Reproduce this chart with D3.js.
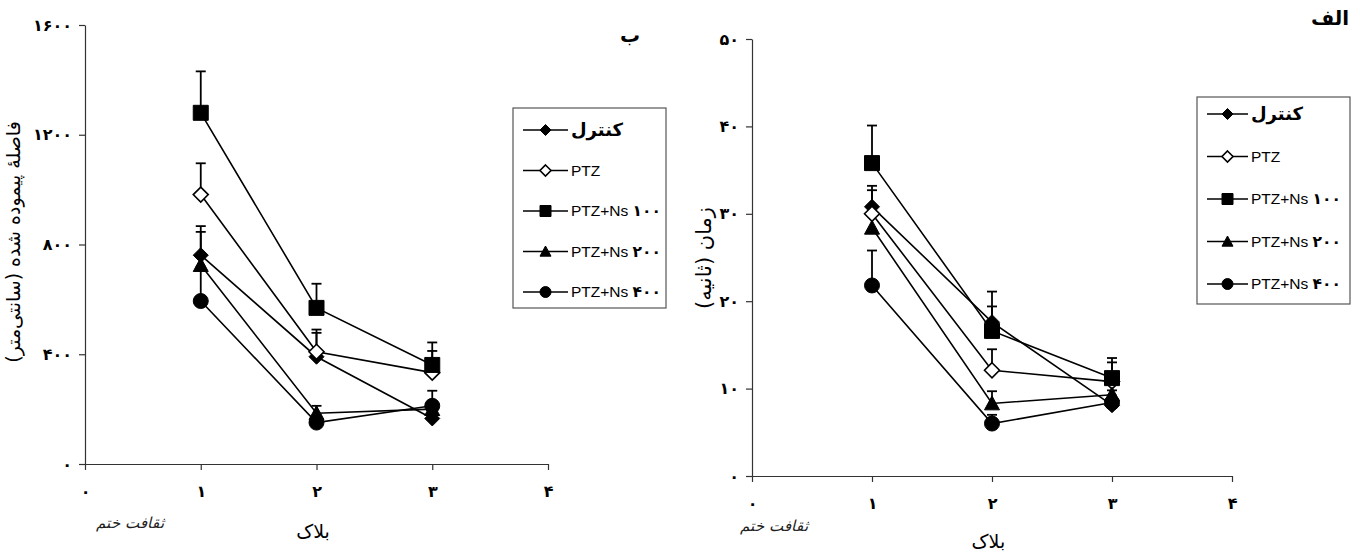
<!DOCTYPE html>
<html>
<head>
<meta charset="utf-8">
<script src="https://cdn.jsdelivr.net/npm/d3@7"></script>
<style>
  html, body { margin: 0; padding: 0; background: #fff; }
  svg { display: block; }
</style>
</head>
<body>
<svg id="chart" width="1360" height="552"></svg>
<script>
// ---------------- DATA ----------------
const blocks = [1, 2, 3];
const seriesNames = ["کنترل", "PTZ", "PTZ+Ns ۱۰۰", "PTZ+Ns ۲۰۰", "PTZ+Ns ۴۰۰"];
const seriesShapes = ["diamond", "diamondOpen", "square", "triangle", "circle"];

// Panel "ب" : distance travelled (cm)
const distControl = [761, 391, 166];
const distPTZ     = [982, 409, 333];
const distNs100   = [1280, 569, 361];
const distNs200   = [725, 185, 200];
const distNs400   = [594, 151, 212];
const distControlErr = [106, 87, 20];
const distPTZErr     = [114, 81, 79];
const distNs100Err   = [151, 88, 82];
const distNs200Err   = [121, 27, 15];
const distNs400Err   = [125, 25, 55];
const distTicks = [0, 400, 800, 1200, 1600];

// Panel "الف" : time (s)
const timeControl = [30.8, 17.6, 8.1];
const timePTZ     = [30.0, 12.1, 10.8];
const timeNs100   = [35.8, 16.6, 11.2];
const timeNs200   = [28.4, 8.3, 9.3];
const timeNs400   = [21.8, 6.0, 8.4];
const timeControlErr = [2.4, 3.5, 0.5];
const timePTZErr     = [2.7, 2.4, 2.2];
const timeNs100Err   = [4.3, 2.8, 2.3];
const timeNs200Err   = [1.5, 1.4, 0.5];
const timeNs400Err   = [4.0, 1.0, 0.8];
const timeTicks = [0, 10, 20, 30, 40, 50];

const xTicks = [0, 1, 2, 3, 4];

// ---------------- HELPERS ----------------
const faDigits = "۰۱۲۳۴۵۶۷۸۹";
const toFa = v => String(v).replace(/\d/g, d => faDigits[+d]);
const FA_FONT = "'DejaVu Sans', 'Noto Sans', sans-serif";
const LAT_FONT = "'Liberation Sans', Arial, sans-serif";

function markerPath(shape, s) {
  if (shape === "square") return `M${-s},${-s}H${s}V${s}H${-s}Z`;
  if (shape === "diamond" || shape === "diamondOpen") return `M0,${-s}L${s},0L0,${s}L${-s},0Z`;
  if (shape === "triangle") return `M0,${-s}L${s},${s*0.85}L${-s},${s*0.85}Z`;
  if (shape === "circle") return d3.symbol(d3.symbolCircle, Math.PI * s * s)();
  return "";
}
function drawMarker(g, shape, x, y, s) {
  g.append("path")
    .attr("d", markerPath(shape, s))
    .attr("transform", `translate(${x},${y})`)
    .attr("fill", shape === "diamondOpen" ? "#fff" : "#000")
    .attr("stroke", "#000")
    .attr("stroke-width", shape === "diamondOpen" ? 1.6 : 1);
}

const svg = d3.select("#chart");

function drawPanel(cfg) {
  const x = d3.scaleLinear().domain([0, 4]).range([cfg.x0, cfg.x1]);
  const y = d3.scaleLinear().domain([0, cfg.yMax]).range([cfg.yBottom, cfg.yTop]);
  const g = svg.append("g");

  const yAxis = d3.axisLeft(y).tickValues(cfg.yTicks).tickSize(6).tickSizeOuter(0)
    .tickPadding(7).tickFormat(toFa);
  const xAxis = d3.axisBottom(x).tickValues(xTicks).tickSize(6).tickSizeOuter(0)
    .tickPadding(16).tickFormat(toFa);
  const ya = g.append("g").attr("transform", `translate(${cfg.x0},0)`).call(yAxis);
  const xa = g.append("g").attr("transform", `translate(0,${cfg.yBottom})`).call(xAxis);
  [ya, xa].forEach(a => {
    a.selectAll("path,line").attr("stroke", "#333").attr("stroke-width", 1.2);
    a.selectAll("text").attr("font-family", FA_FONT).attr("font-size", 16)
      .attr("font-weight", "bold").attr("fill", "#000");
  });

  const series = cfg.values.map((v, i) => ({ v, e: cfg.errs[i], shape: seriesShapes[i] }));
  const line = d3.line().x((d, i) => x(blocks[i])).y(d => y(d));

  series.forEach(s => {
    g.append("path").attr("d", line(s.v)).attr("fill", "none")
      .attr("stroke", "#000").attr("stroke-width", 1.6);
  });
  series.forEach(s => {
    s.v.forEach((val, i) => {
      const cx = x(blocks[i]), top = y(val + s.e[i]);
      g.append("line").attr("x1", cx).attr("x2", cx).attr("y1", y(val)).attr("y2", top)
        .attr("stroke", "#000").attr("stroke-width", 1.8);
      g.append("line").attr("x1", cx - 5).attr("x2", cx + 5).attr("y1", top).attr("y2", top)
        .attr("stroke", "#000").attr("stroke-width", 1.8);
    });
  });
  series.forEach(s => {
    s.v.forEach((val, i) => drawMarker(g, s.shape, x(blocks[i]), y(val), 7.5));
  });

  g.append("text").attr("x", x(1.97)).attr("y", cfg.xTitleY)
    .attr("text-anchor", "middle").attr("font-family", FA_FONT).attr("font-size", 19)
    .attr("fill", "#000").text("بلاک");
  g.append("text")
    .attr("transform", `translate(${cfg.yTitleX},${cfg.yTitleY}) rotate(-90)`)
    .attr("text-anchor", "middle").attr("font-family", FA_FONT).attr("font-size", cfg.yTitleSize)
    .attr("fill", "#000").text(cfg.yTitle);
  g.append("text").attr("x", cfg.letterX).attr("y", cfg.letterY)
    .attr("text-anchor", "middle").attr("font-family", FA_FONT).attr("font-size", 20)
    .attr("font-weight", "bold").attr("fill", "#000").text(cfg.letter);
  g.append("text").attr("x", cfg.sigX).attr("y", cfg.sigY)
    .attr("text-anchor", "middle").attr("font-family", "'DejaVu Serif', serif")
    .attr("font-style", "italic").attr("font-size", 15).attr("fill", "#222")
    .text("ثقافت ختم");

  const L = cfg.legend;
  const lg = svg.append("g");
  lg.append("rect").attr("x", L.x).attr("y", L.y).attr("width", L.w).attr("height", L.h)
    .attr("fill", "#fff").attr("stroke", "#555").attr("stroke-width", 1.2);
  seriesNames.forEach((name, i) => {
    const yy = L.y0 + i * L.step;
    lg.append("line").attr("x1", L.lx0).attr("x2", L.lx1).attr("y1", yy).attr("y2", yy)
      .attr("stroke", "#000").attr("stroke-width", 1.6);
    drawMarker(lg, seriesShapes[i], (L.lx0 + L.lx1) / 2, yy, 5.5);
    const t = lg.append("text").attr("x", L.tx).attr("y", yy).attr("dy", "0.35em")
      .attr("fill", "#000").attr("font-size", 15.5);
    if (i === 0) {
      t.attr("font-family", FA_FONT).attr("font-weight", "bold").attr("font-size", 18).text(name);
    } else if (i === 1) {
      t.attr("font-family", LAT_FONT).text(name);
    } else {
      const parts = name.split(" ");
      t.attr("font-family", LAT_FONT);
      t.append("tspan").text(parts[0] + " ");
      t.append("tspan").attr("font-family", FA_FONT).attr("font-weight", "bold").text(parts[1]);
    }
  });
}

drawPanel({
  x0: 85, x1: 548, yTop: 25, yBottom: 464, yMax: 1600, yTicks: distTicks,
  values: [distControl, distPTZ, distNs100, distNs200, distNs400],
  errs: [distControlErr, distPTZErr, distNs100Err, distNs200Err, distNs400Err],
  xTitleY: 538, yTitleX: 20, yTitleY: 242, yTitleSize: 19,
  yTitle: "فاصلهٔ پیموده شده (سانتی‌متر)",
  letter: "ب", letterX: 630, letterY: 42,
  sigX: 130, sigY: 528,
  legend: { x: 513, y: 108, w: 153, h: 200, y0: 130, step: 40.5, lx0: 523, lx1: 568, tx: 571 }
});

drawPanel({
  x0: 752, x1: 1232, yTop: 39, yBottom: 476, yMax: 50, yTicks: timeTicks,
  values: [timeControl, timePTZ, timeNs100, timeNs200, timeNs400],
  errs: [timeControlErr, timePTZErr, timeNs100Err, timeNs200Err, timeNs400Err],
  xTitleY: 548, yTitleX: 711, yTitleY: 258, yTitleSize: 21,
  yTitle: "زمان (ثانیه)",
  letter: "الف", letterX: 1330, letterY: 25,
  sigX: 774, sigY: 531,
  legend: { x: 1197, y: 97, w: 153, h: 207, y0: 114, step: 42.5, lx0: 1207, lx1: 1248, tx: 1251 }
});
</script>
</body>
</html>
